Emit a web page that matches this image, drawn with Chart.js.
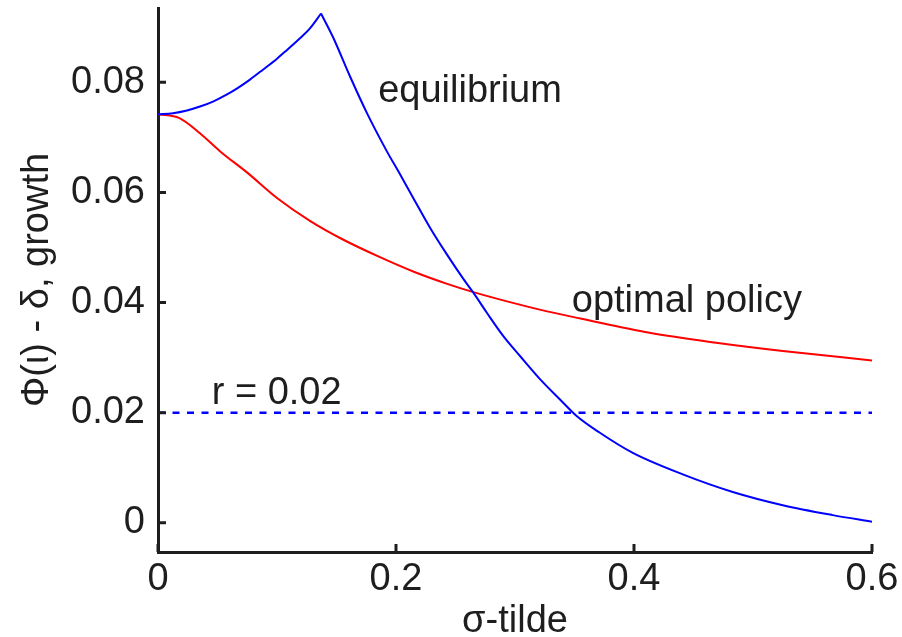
<!DOCTYPE html>
<html>
<head>
<meta charset="utf-8">
<script src="https://cdn.jsdelivr.net/npm/chart.js@4.4.1/dist/chart.umd.min.js"></script>
<style>
  html, body { margin: 0; padding: 0; background: #fff; }
  #wrap { width: 902px; height: 637px; }
</style>
</head>
<body>
<div id="wrap"><canvas id="growth" width="902" height="637"></canvas></div>
<script>
// growth rate against sigma-tilde: equilibrium vs optimal policy
const equilibriumX = [0, 0.0126, 0.0244, 0.0353, 0.0462, 0.058, 0.0672, 0.0773, 0.0882, 0.1, 0.108, 0.1193, 0.1277, 0.137,
  0.1473, 0.1613, 0.1754, 0.192, 0.2034, 0.2145, 0.2286, 0.2426, 0.2566, 0.265, 0.2762, 0.2902, 0.3042, 0.321, 0.3378,
  0.3518, 0.371, 0.399, 0.441, 0.483, 0.525, 0.567, 0.6];
const equilibriumY = [0.0742, 0.0744, 0.0749, 0.0756, 0.0765, 0.0778, 0.079, 0.0805, 0.0823, 0.0843, 0.0858, 0.088, 0.0898, 0.0925,
  0.0881, 0.0811, 0.0745, 0.0676, 0.0633, 0.059, 0.0536, 0.0488, 0.0443, 0.0418, 0.0382, 0.0339, 0.0303, 0.0261, 0.0224,
  0.0194, 0.0164, 0.0127, 0.0088, 0.0056, 0.0032, 0.0014, 0.0002];
const optimalX = [0, 0.018, 0.035, 0.052, 0.075, 0.1, 0.128, 0.155, 0.187, 0.215, 0.243, 0.265, 0.299, 0.327, 0.355,
  0.413, 0.469, 0.525, 0.6];
const optimalY = [0.0742, 0.0735, 0.0708, 0.0675, 0.0636, 0.059, 0.0548, 0.0515, 0.0482, 0.0456, 0.0434, 0.0419, 0.0399,
  0.0384, 0.0371, 0.0345, 0.0327, 0.0312, 0.0295];
const riskFreeRate = 0.02;

const xTicks = [0, 0.2, 0.4, 0.6];
const xTickLabels = ["0", "0.2", "0.4", "0.6"];
const yTicks = [0, 0.02, 0.04, 0.06, 0.08];
const yTickLabels = ["0", "0.02", "0.04", "0.06", "0.08"];

// text placed next to the curves, anchored in data units
const curveNotes = [
  { text: "equilibrium", x: 0.185, y: 0.0764 },
  { text: "optimal policy", x: 0.3477, y: 0.0382 },
  { text: "r = 0.02", x: 0.0451, y: 0.0215 },
];

const INK = "#1e1e1e";
const FONT = "'Liberation Sans', Arial, Helvetica, sans-serif";
const SIZE = 38;
const BLUE = "rgb(0, 0, 255)";
const RED = "rgb(255, 0, 0)";

const toPoints = (xs, ys) => xs.map((x, i) => ({ x: x, y: ys[i] }));

// the equilibrium curve has a kink at its maximum, so smooth each side on its own
const peak = equilibriumY.indexOf(Math.max(...equilibriumY));
const eqPoints = toPoints(equilibriumX, equilibriumY);

const curve = (label, points, color) => ({
  label: label,
  data: points,
  borderColor: color,
  borderWidth: 2,
  pointRadius: 0,
  cubicInterpolationMode: "monotone",
});

// short tick marks pointing into the plot, plus the curve notes
const innerTicks = {
  id: "innerTicks",
  afterDatasetsDraw(chart) {
    const { ctx, chartArea, scales } = chart;
    ctx.save();
    ctx.strokeStyle = INK;
    ctx.lineWidth = 3;
    ctx.beginPath();
    scales.x.ticks.forEach((t) => {
      const px = scales.x.getPixelForValue(t.value);
      ctx.moveTo(px, chartArea.bottom);
      ctx.lineTo(px, chartArea.bottom - 8);
    });
    scales.y.ticks.forEach((t) => {
      const py = scales.y.getPixelForValue(t.value);
      ctx.moveTo(chartArea.left, py);
      ctx.lineTo(chartArea.left + 8, py);
    });
    ctx.stroke();

    ctx.fillStyle = INK;
    ctx.font = SIZE + "px " + FONT;
    ctx.textAlign = "left";
    ctx.textBaseline = "alphabetic";
    curveNotes.forEach((n) => {
      ctx.fillText(n.text, scales.x.getPixelForValue(n.x), scales.y.getPixelForValue(n.y));
    });
    ctx.restore();
  },
};

new Chart(document.getElementById("growth"), {
  type: "line",
  data: {
    datasets: [
      curve("equilibrium", eqPoints.slice(0, peak + 1), BLUE),
      curve("equilibrium", eqPoints.slice(peak), BLUE),
      curve("optimal policy", toPoints(optimalX, optimalY), RED),
      {
        label: "r",
        data: [{ x: 0, y: riskFreeRate }, { x: 0.6, y: riskFreeRate }],
        borderColor: BLUE,
        borderWidth: 2.5,
        borderDash: [7, 7.5],
        pointRadius: 0,
      },
    ],
  },
  options: {
    responsive: false,
    animation: false,
    devicePixelRatio: 1,
    layout: { padding: { top: 8, right: 30, left: 0, bottom: 0 } },
    plugins: { legend: { display: false }, tooltip: { enabled: false } },
    scales: {
      x: {
        type: "linear",
        min: 0,
        max: 0.6,
        afterBuildTicks: (scale) => { scale.ticks = xTicks.map((v) => ({ value: v })); },
        afterFit: (scale) => { scale.height = 85; scale.paddingLeft = 0; scale.paddingRight = 0; },
        grid: { display: false, drawTicks: false },
        border: { display: true, color: INK, width: 3 },
        ticks: {
          color: INK,
          padding: 9,
          maxRotation: 0,
          font: { family: FONT, size: SIZE, lineHeight: 1 },
          callback: (v) => xTickLabels[xTicks.indexOf(v)],
        },
        title: {
          display: true,
          text: "σ-tilde",
          color: INK,
          font: { family: FONT, size: SIZE, lineHeight: 1 },
          padding: { top: 0, bottom: -4 },
        },
      },
      y: {
        type: "linear",
        min: -0.0053,
        max: 0.0935,
        afterBuildTicks: (scale) => { scale.ticks = yTicks.map((v) => ({ value: v })); },
        afterFit: (scale) => { scale.width = 158; scale.paddingTop = 0; scale.paddingBottom = 0; },
        grid: { display: false, drawTicks: false },
        border: { display: true, color: INK, width: 3 },
        ticks: {
          color: INK,
          padding: 13,
          font: { family: FONT, size: SIZE, lineHeight: 1 },
          callback: (v) => yTickLabels[yTicks.indexOf(v)],
        },
        title: {
          display: true,
          text: "Φ(ι) - δ, growth",
          color: INK,
          font: { family: FONT, size: SIZE, lineHeight: 1 },
          padding: { top: 19, bottom: 0 },
        },
      },
    },
  },
  plugins: [innerTicks],
});
</script>
</body>
</html>
